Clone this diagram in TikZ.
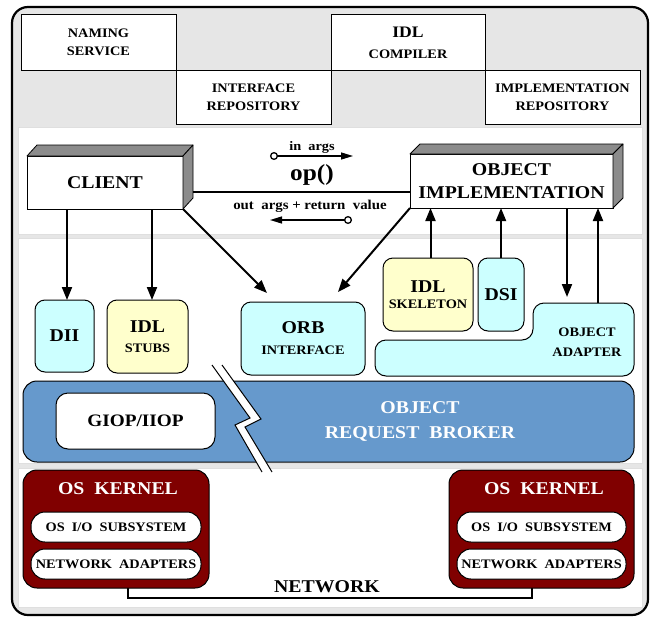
\documentclass[tikz,border=0pt]{standalone}
\usepackage{fontspec}
\setmainfont{Liberation Serif}[FakeStretch=1.1]
\usetikzlibrary{arrows.meta,calc}

\definecolor{cyanbox}{HTML}{CCFFFF}
\definecolor{yellowbox}{HTML}{FFFFCC}
\definecolor{orbblue}{HTML}{6699CC}
\definecolor{kernelred}{HTML}{800000}
\definecolor{bggray}{HTML}{E6E6E6}
\definecolor{facegray}{HTML}{8C8C8C}

\newcommand\fsBig{\fontsize{18}{22}\selectfont}
\newcommand\fsMid{\fontsize{13}{18}\selectfont}

\begin{document}
\begin{tikzpicture}[x=1pt,y=-1pt,
  every node/.style={inner sep=0pt, outer sep=0pt, font=\bfseries},
  topbox/.style={draw, line width=1pt, fill=white, align=center, font=\bfseries\fsMid},
  solid3d/.style={draw, line width=1pt, fill=white, align=center, font=\bfseries\fsBig},
  face/.style={draw, line width=0.8pt, fill=facegray, line join=round},
  rbox/.style={draw, line width=1pt, rounded corners=10pt, align=center, font=\bfseries\fsMid},
  conn/.style={line width=2pt, -{Triangle[length=13pt,width=10pt]}},
  sig/.style={line width=1.3pt, {Circle[open,length=8pt,width=8pt]}-{Triangle[length=12pt,width=7pt]}},
  panel/.style={fill=white, draw=gray!25, line width=1pt},
  pill/.style={draw, line width=1pt, fill=white, rounded corners=14pt, font=\bfseries\fontsize{13}{15}\selectfont},
]
\useasboundingbox (0,0) rectangle (652,618);

% outer frame and white layers
\draw[fill=bggray, line width=2.2pt, rounded corners=16pt] (12,7) rectangle (648,615);
\path[panel] (18,127) rectangle (642,234);
\path[panel] (18,238) rectangle (642,463);
\path[panel] (18,468) rectangle (642,607);

% services row
\node[topbox, minimum width=155pt, minimum height=55pt] (naming) at (98.5,42.5) {NAMING\\SERVICE};
\node[topbox, minimum width=155pt, minimum height=54pt] (ifrepo) at (253.5,97) {INTERFACE\\REPOSITORY};
\node[topbox, minimum width=154pt, minimum height=55pt] (idlc) at (408,42.5) {{\fontsize{16}{18}\selectfont IDL}\\[3pt]COMPILER};
\node[topbox, minimum width=155pt, minimum height=54pt] (implrepo) at (562.5,97) {IMPLEMENTATION\\REPOSITORY};

% client and object implementation blocks
\node[solid3d, minimum width=156pt, minimum height=53pt] (client) at (105,182.5) {CLIENT};
\path[face] (client.north west) -- ++(10,-11) -- ([shift={(10,-11)}]client.north east) -- (client.north east) -- cycle;
\path[face] (client.north east) -- ++(10,-11) -- ([shift={(10,-11)}]client.south east) -- (client.south east) -- cycle;

\node[solid3d, minimum width=203pt, minimum height=54pt, font=\bfseries\fontsize{18}{23}\selectfont] (objimpl) at (511.5,181) {OBJECT\\IMPLEMENTATION};
\path[face] (objimpl.north west) -- ++(10,-10) -- ([shift={(10,-10)}]objimpl.north east) -- (objimpl.north east) -- cycle;
\path[face] (objimpl.north east) -- ++(10,-10) -- ([shift={(10,-10)}]objimpl.south east) -- (objimpl.south east) -- cycle;

% request line
\draw[line width=1.2pt] ([shift={(10,9.5)}]client.east) -- ([shift={(0,11)}]objimpl.west);
\node[font=\bfseries\fontsize{13}{15}\selectfont] (inargs) at (312,147) {in\ \ args};
\node[font=\bfseries\fontsize{23}{25}\selectfont] (opname) at (312,175) {op()};
\node[font=\bfseries\fontsize{13.5}{15}\selectfont] (outargs) at (310,206) {out\ \ args + return\ \ value};
\coordinate (inA) at (270,156);
\coordinate (inB) at (353,156);
\coordinate (outA) at (352,220);
\coordinate (outB) at (270,220);
\draw[sig] (inA) -- (inB);
\draw[sig] (outA) -- (outB);

% client side components
\node[rbox, fill=cyanbox, minimum width=59pt, minimum height=72pt, font=\bfseries\fsBig] (dii) at (64.5,336) {DII};
\node[rbox, fill=yellowbox, minimum width=81pt, minimum height=73pt] (stubs) at (147.5,336.5) {{\fsBig IDL}\\[2pt]STUBS};
\node[rbox, fill=cyanbox, minimum width=124pt, minimum height=73pt] (orbif) at (303,338.5) {{\fsBig ORB}\\[3pt]INTERFACE};

% server side components
\node[rbox, fill=yellowbox, minimum width=90pt, minimum height=73pt] (skel) at (428,294.5) {{\fsBig IDL}\\[-1.5pt]SKELETON};
\node[rbox, fill=cyanbox, minimum width=46pt, minimum height=73pt, font=\bfseries\fsBig] (dsi) at (501,294.5) {DSI};
\draw[line width=1pt, fill=cyanbox, rounded corners=11pt]
  (450,340) -- (375,340) -- (375,376) -- (634,376) -- (634,303) -- (533,303) -- (533,340) -- cycle;
\node[align=center, font=\bfseries\fontsize{13}{20}\selectfont] (adapter) at (587,342) {OBJECT\\ADAPTER};

% invocation arrows
\coordinate (orbInL) at (267,293);
\coordinate (orbInR) at (338,292);
\coordinate (adIn) at (567,297);
\coordinate (adOut) at (598,303);
\draw[conn] ([xshift=2.5pt]dii.north |- client.south) -- ([xshift=2.5pt]dii.north);
\draw[conn] ([xshift=4.5pt]stubs.north |- client.south) -- ([xshift=4.5pt]stubs.north);
\draw[conn] (client.south east) -- (orbInL);
\draw[conn] (objimpl.south west) -- (orbInR);
\draw[conn] ([xshift=2.5pt]skel.north) -- ([xshift=2.5pt]skel.north |- objimpl.south);
\draw[conn] (dsi.north) -- (dsi.north |- objimpl.south);
\draw[conn] (adIn |- objimpl.south) -- (adIn);
\draw[conn] (adOut) -- (adOut |- objimpl.south);

% object request broker
\node[draw, line width=1pt, fill=orbblue, rounded corners=14pt, minimum width=611pt, minimum height=81pt] (orb) at (328.5,421.5) {};
\fill[white] (212,365) -- (250,418) -- (235,425) -- (262,472) -- (272,472) -- (245,427) -- (261,419) -- (222,365) -- cycle;
\draw[line width=1pt] (212,365) -- (250,418) -- (235,425) -- (262,472);
\draw[line width=1pt] (222,365) -- (261,419) -- (245,427) -- (272,472);
\node[draw, line width=1pt, fill=white, rounded corners=12pt, minimum width=159pt, minimum height=56pt, font=\bfseries\fontsize{17.5}{20}\selectfont] (giop) at (135.5,421) {GIOP/IIOP};
\node[text=white, align=center, font=\bfseries\fontsize{18}{25}\selectfont] (orbtext) at (420,421) {OBJECT\\REQUEST\ \ BROKER};

% network link between the two hosts
\coordinate (netA) at (128,598);
\coordinate (netB) at (532,598);
\node[minimum width=186pt, minimum height=118pt] (kernL) at (116,529) {};
\node[minimum width=185pt, minimum height=118pt] (kernR) at (541.5,529) {};
\draw[line width=2.5pt] (netA |- kernL.south) -- (netA) -- (netB) -- (netB |- kernR.south);
\node[font=\bfseries\fsBig] (netlabel) at (327,587) {NETWORK};

% operating system kernels
\draw[line width=1pt, fill=kernelred, rounded corners=14pt] (kernL.north west) rectangle (kernL.south east);
\draw[line width=1pt, fill=kernelred, rounded corners=14pt] (kernR.north west) rectangle (kernR.south east);
\node[text=white, font=\bfseries\fontsize{18}{20}\selectfont] (kernLt) at (118,489) {OS\ \ KERNEL};
\node[text=white, font=\bfseries\fontsize{18}{20}\selectfont] (kernRt) at (544,489) {OS\ \ KERNEL};
\node[pill, minimum width=170pt, minimum height=30pt] (ioL) at (116,527) {OS\ \ I/O\ \ SUBSYSTEM};
\node[pill, minimum width=170pt, minimum height=30pt] (netL) at (116,564) {NETWORK\ \ ADAPTERS};
\node[pill, minimum width=169pt, minimum height=30pt] (ioR) at (541.5,527) {OS\ \ I/O\ \ SUBSYSTEM};
\node[pill, minimum width=169pt, minimum height=30pt] (netR) at (541.5,564) {NETWORK\ \ ADAPTERS};
\end{tikzpicture}
\end{document}
